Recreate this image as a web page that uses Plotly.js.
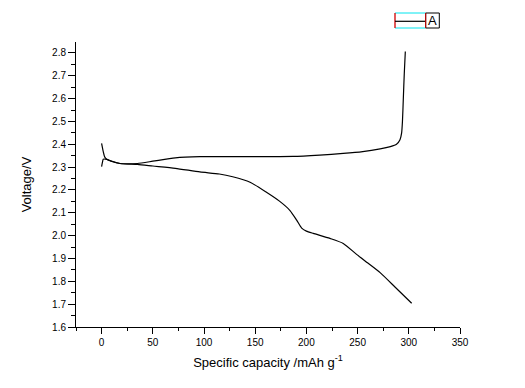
<!DOCTYPE html>
<html>
<head>
<meta charset="utf-8">
<script src="https://cdn.plot.ly/plotly-3.0.1.min.js"></script>
<style>
html,body{margin:0;padding:0;background:#fff;}
#chart{width:525px;height:388px;}
</style>
</head>
<body>
<div id="chart"></div>
<script>
// Charge curve (upper)
var chargeCap = [0, 1, 1.6, 5, 10, 18, 25, 35, 50, 72, 96, 130, 187, 213, 236, 255, 272, 282, 288, 291.4, 293.0, 293.8, 294.6, 295.6, 296.6];
var chargeV   = [2.302, 2.325, 2.335, 2.334, 2.325, 2.316, 2.314, 2.316, 2.326, 2.341, 2.346, 2.346, 2.347, 2.353, 2.360, 2.368, 2.380, 2.390, 2.400, 2.420, 2.450, 2.500, 2.594, 2.711, 2.806];
// Discharge curve (lower)
var dischargeCap = [0, 1.5, 3, 5, 10, 18, 35, 50, 72, 96, 115, 128, 145, 161, 174, 184, 190.5, 195.4, 200, 206.7, 223, 236, 249, 260, 272, 287, 302.8];
var dischargeV   = [2.404, 2.370, 2.345, 2.335, 2.326, 2.316, 2.312, 2.305, 2.295, 2.279, 2.270, 2.258, 2.234, 2.190, 2.150, 2.110, 2.068, 2.033, 2.020, 2.010, 1.988, 1.966, 1.918, 1.880, 1.838, 1.773, 1.704];
var legendName = "A";

var lineStyle = {color: '#000', width: 1.2, shape: 'spline', smoothing: 0.6};
var traces = [
  {x: chargeCap, y: chargeV, mode: 'lines', line: lineStyle, name: legendName, showlegend: false},
  {x: dischargeCap, y: dischargeV, mode: 'lines', line: lineStyle, name: legendName, showlegend: false}
];

// pixel -> paper helpers for the legend decoration
var L = 76, T = 42, W = 384, H = 285;
function px(x){ return (x - L) / W; }
function py(y){ return (T + H - y) / H; }

var shapes = [
  {type:'line', xref:'paper', yref:'paper', x0:px(395), x1:px(425.7), y0:py(13), y1:py(13), line:{color:'#00e5ee', width:1}},
  {type:'line', xref:'paper', yref:'paper', x0:px(395), x1:px(425.7), y0:py(28), y1:py(28), line:{color:'#00e5ee', width:1}},
  {type:'line', xref:'paper', yref:'paper', x0:px(395), x1:px(395), y0:py(13), y1:py(28), line:{color:'#d00000', width:1.3}},
  {type:'line', xref:'paper', yref:'paper', x0:px(395), x1:px(425.7), y0:py(21.3), y1:py(21.3), line:{color:'#000', width:1.2}},
  {type:'rect', xref:'paper', yref:'paper', x0:px(425.7), x1:px(439.3), y0:py(13), y1:py(28), line:{color:'#000', width:1}},
  {type:'line', xref:'paper', yref:'paper', x0:px(425.7), x1:px(425.7), y0:py(13), y1:py(28), line:{color:'#d00000', width:1}}
];

var layout = {
  width: 525, height: 388,
  margin: {l: L, r: 525 - L - W, t: T, b: 388 - T - H},
  paper_bgcolor: '#fff', plot_bgcolor: '#fff',
  font: {family: 'Liberation Sans, Arial, sans-serif', color: '#000'},
  showlegend: false,
  xaxis: {
    range: [-25, 350], tick0: 0, dtick: 50,
    showgrid: false, zeroline: false,
    showline: true, linecolor: '#000', linewidth: 1, mirror: false,
    ticks: 'outside', ticklen: 6, tickwidth: 1, tickcolor: '#000',
    minor: {ticks: 'outside', ticklen: 3, tickwidth: 1, tickcolor: '#000', dtick: 25, tick0: 0, showgrid: false},
    tickfont: {size: 10, color: '#000'},
    title: {text: 'Specific capacity /mAh g<sup>-1</sup>', font: {size: 13, color: '#000'}, standoff: 10}
  },
  yaxis: {
    range: [1.6, 2.848], tick0: 1.6, dtick: 0.1, tickformat: '.1f',
    showgrid: false, zeroline: false,
    showline: true, linecolor: '#000', linewidth: 1, mirror: false,
    ticks: 'outside', ticklen: 7, tickwidth: 1, tickcolor: '#000',
    minor: {ticks: 'outside', ticklen: 4, tickwidth: 1, tickcolor: '#000', dtick: 0.05, tick0: 1.6, showgrid: false},
    tickfont: {size: 10, color: '#000'},
    title: {text: 'Voltage/V', font: {size: 13, color: '#000'}, standoff: 17}
  },
  shapes: shapes,
  annotations: [
    {xref:'paper', yref:'paper', x: px(432.5), y: py(20.5), text: legendName, showarrow: false,
     font: {size: 13, color: '#000'}, xanchor: 'center', yanchor: 'middle'}
  ]
};

Plotly.newPlot('chart', traces, layout, {displayModeBar: false, staticPlot: true});
</script>
</body>
</html>
